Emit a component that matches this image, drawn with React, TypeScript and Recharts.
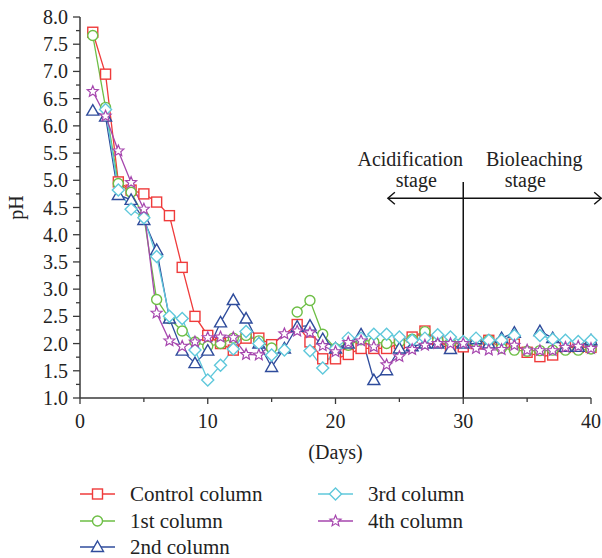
import React from 'react';
import { LineChart, Line, XAxis, YAxis, ReferenceLine } from 'recharts';

const days = [1, 2, 3, 4, 5, 6, 7, 8, 9, 10, 11, 12, 13, 14, 15, 16, 17, 18, 19, 20, 21, 22, 23, 24, 25, 26, 27, 28, 29, 30, 31, 32, 33, 34, 35, 36, 37, 38, 39, 40];

const control = [7.72, 6.95, 4.97, 4.82, 4.75, 4.6, 4.35, 3.4, 2.5, 2.15, 2.0, 1.88, 2.1, 2.1, 1.98, null, 2.35, 2.03, 1.72, 1.72, 1.8, 1.91, 1.91, 1.91, 2.0, 2.12, 2.23, 2.05, 1.93, 1.94, 2.0, 2.06, 2.0, 1.99, 1.84, 1.76, 1.79, 1.93, 1.93, 1.93];
const col1 = [7.66, 6.34, 4.94, 4.78, 4.33, 2.81, 2.46, 2.23, 2.03, 1.95, 2.0, 2.1, 2.15, 2.05, 1.92, null, 2.58, 2.79, 2.17, 1.91, 1.97, 2.07, 2.03, 2.0, 2.03, 2.08, 2.22, 2.06, 2.02, 2.03, 2.03, 2.06, 1.92, 1.88, 1.86, 1.87, 1.88, 1.88, 1.88, 1.9];
const col2 = [6.28, 6.17, 4.73, 4.64, 4.27, 3.72, 2.46, 1.87, 1.64, 1.87, 2.39, 2.8, 2.46, 2.0, 1.57, 1.91, 2.31, 2.33, 2.08, 1.91, 2.0, 2.17, 1.33, 1.51, 1.91, 1.95, 2.0, 2.0, 1.9, 2.0, 2.08, 2.0, 2.1, 2.2, null, 2.23, 2.1, 1.94, 1.94, 2.06];
const col3 = [null, 6.3, 4.82, 4.47, 4.31, 3.6, 2.5, 2.46, 1.88, 1.33, 1.6, 1.9, 2.22, 2.0, 1.79, 1.88, null, 1.87, 1.55, 1.91, 2.1, 2.1, 2.17, 2.17, 2.12, 2.06, 2.1, 2.16, 2.12, 2.04, 2.1, 2.06, 2.06, 2.15, null, 2.15, 2.08, 2.06, 2.04, 2.06];
const col4 = [6.63, 6.18, 5.54, 4.96, 4.47, 2.56, 2.05, 1.95, 2.03, 2.11, 2.12, 2.11, 1.8, 1.79, null, 2.18, 2.23, 2.2, 1.96, 1.85, 2.02, 2.05, 1.94, 1.61, 1.76, 1.89, 1.97, 2.0, 2.0, 2.0, 1.91, 1.88, 1.89, 1.97, 1.88, 1.87, 1.87, 1.93, 1.95, 1.91];

const xTicks = [0, 5, 10, 15, 20, 25, 30, 35, 40];
const yTicks = [1, 1.25, 1.5, 1.75, 2, 2.25, 2.5, 2.75, 3, 3.25, 3.5, 3.75, 4, 4.25, 4.5, 4.75, 5, 5.25, 5.5, 5.75, 6, 6.25, 6.5, 6.75, 7, 7.25, 7.5, 7.75, 8];

const data = days.map((d, i) => ({
  day: d,
  control: control[i],
  col1: col1[i],
  col2: col2[i],
  col3: col3[i],
  col4: col4[i],
}));

const FONT = "'Liberation Serif', 'Times New Roman', serif";
const AXIS = '#3a3a3a';

const series = [
  { key: 'control', name: 'Control column', color: '#ef3b3b', shape: 'square', connect: true },
  { key: 'col1', name: '1st column', color: '#6dbe45', shape: 'circle', connect: false },
  { key: 'col2', name: '2nd column', color: '#2f4c9c', shape: 'triangle', connect: false },
  { key: 'col3', name: '3rd column', color: '#5fc8db', shape: 'diamond', connect: false },
  { key: 'col4', name: '4th column', color: '#a646ae', shape: 'star', connect: true },
];

function Marker({ shape, cx, cy, color }: any) {
  const common = { fill: '#fff', stroke: color, strokeWidth: 1.4 };
  if (shape === 'square') return <rect x={cx - 5} y={cy - 5} width={10} height={10} {...common} />;
  if (shape === 'circle') return <circle cx={cx} cy={cy} r={5} {...common} />;
  if (shape === 'triangle')
    return <path d={`M${cx},${cy - 6}L${cx + 6},${cy + 4.5}L${cx - 6},${cy + 4.5}Z`} {...common} />;
  if (shape === 'diamond')
    return <path d={`M${cx},${cy - 6}L${cx + 6},${cy}L${cx},${cy + 6}L${cx - 6},${cy}Z`} {...common} />;
  // star
  let d = '';
  for (let k = 0; k < 10; k++) {
    const r = k % 2 === 0 ? 5.8 : 2.6;
    const a = -Math.PI / 2 + (k * Math.PI) / 5;
    d += `${k === 0 ? 'M' : 'L'}${cx + r * Math.cos(a)},${cy + r * Math.sin(a)}`;
  }
  return <path d={d + 'Z'} {...common} strokeWidth={1.2} />;
}

const dotFor = (shape: string, color: string) => (props: any) => {
  const { cx, cy, index, value } = props;
  if (value == null || cx == null || cy == null) return <g key={`e-${index}`} />;
  return (
    <g key={`d-${shape}-${index}`}>
      <Marker shape={shape} cx={cx} cy={cy} color={color} />
    </g>
  );
};

function XTick({ x, y, payload }: any) {
  const major = payload.value % 10 === 0;
  return (
    <g>
      <line x1={x} y1={y} x2={x} y2={y + (major ? 6 : 4)} stroke={AXIS} strokeWidth={1.3} />
      {major && (
        <text x={x} y={y + 30} textAnchor="middle" fontFamily={FONT} fontSize={20} fill="#222">
          {payload.value}
        </text>
      )}
    </g>
  );
}

function YTick({ x, y, payload }: any) {
  const major = Math.abs(payload.value * 2 - Math.round(payload.value * 2)) < 1e-6;
  return (
    <g>
      <line x1={x} y1={y} x2={x - (major ? 7 : 4)} y2={y} stroke={AXIS} strokeWidth={1.3} />
      {major && (
        <text x={x - 12} y={y + 7} textAnchor="end" fontFamily={FONT} fontSize={20} fill="#222">
          {payload.value.toFixed(1)}
        </text>
      )}
    </g>
  );
}

function Divider(p: any) {
  const x = p.x1;
  const top = Math.min(p.y1, p.y2);
  const bottom = Math.max(p.y1, p.y2);
  const t = { fontFamily: FONT, fontSize: 20, fill: '#222', textAnchor: 'middle' as const };
  return (
    <g>
      <line x1={x} y1={top} x2={x} y2={bottom} stroke="#111" strokeWidth={1.5} />
      <text x={x - 53} y={top - 16} {...t}>Acidification</text>
      <text x={x - 47} y={top + 5} {...t}>stage</text>
      <text x={x + 71} y={top - 16} {...t}>Bioleaching</text>
      <text x={x + 62} y={top + 5} {...t}>stage</text>
    </g>
  );
}

function Arrow(p: any) {
  const { x1, x2, y1 } = p;
  return (
    <g stroke="#111" strokeWidth={1.4} fill="none">
      <line x1={x1} y1={y1} x2={x2} y2={y1} />
      <path d={`M${x1 + 7},${y1 - 6}L${x1},${y1}L${x1 + 7},${y1 + 6}`} />
      <path d={`M${x2 - 7},${y1 - 6}L${x2},${y1}L${x2 - 7},${y1 + 6}`} />
    </g>
  );
}

function LegendItem({ s, left, top }: any) {
  return (
    <div style={{ position: 'absolute', left, top, display: 'flex', alignItems: 'center', height: 24 }}>
      <svg width={36} height={14} style={{ overflow: 'visible' }}>
        <line x1={0} y1={7} x2={35} y2={7} stroke={s.color} strokeWidth={1.4} />
        <Marker shape={s.shape} cx={17.5} cy={7} color={s.color} />
      </svg>
      <span style={{ marginLeft: 14, fontFamily: FONT, fontSize: 21, color: '#222', whiteSpace: 'nowrap' }}>{s.name}</span>
    </div>
  );
}

export default function App() {
  const legendPos = [
    { left: 80, top: 482 },
    { left: 80, top: 509 },
    { left: 80, top: 535 },
    { left: 318, top: 482 },
    { left: 318, top: 509 },
  ];
  return (
    <div style={{ position: 'absolute', left: 0, top: 0, width: 602, height: 558, background: '#fff', overflow: 'hidden' }}>
      <LineChart width={602} height={558} data={data} margin={{ top: 17, right: 11, left: 0, bottom: 93 }}>
        <XAxis
          dataKey="day"
          type="number"
          domain={[0, 40]}
          ticks={xTicks}
          interval={0}
          tickSize={0}
          tickMargin={0}
          tickLine={false}
          tick={<XTick />}
          height={67}
          stroke={AXIS}
          strokeWidth={1.5}
          label={{ value: '(Days)', position: 'insideBottom', offset: 6, style: { fontFamily: FONT, fontSize: 20, fill: '#222' } }}
        />
        <YAxis
          type="number"
          domain={[1, 8]}
          ticks={yTicks}
          interval={0}
          width={80}
          tickSize={0}
          tickMargin={0}
          tickLine={false}
          tick={<YTick />}
          stroke={AXIS}
          strokeWidth={1.5}
          label={{ value: 'pH', angle: -90, position: 'insideLeft', offset: 16, style: { fontFamily: FONT, fontSize: 20, fill: '#222', textAnchor: 'middle' } }}
        />
        {series.map((s) => (
          <Line
            key={s.key}
            type="linear"
            dataKey={s.key}
            name={s.name}
            stroke={s.color}
            strokeWidth={1.3}
            connectNulls={s.connect}
            dot={dotFor(s.shape, s.color)}
            activeDot={false}
            isAnimationActive={false}
          />
        ))}
        <ReferenceLine segment={[{ x: 30, y: 1 }, { x: 30, y: 4.97 }]} ifOverflow="visible" shape={Divider} />
        <ReferenceLine segment={[{ x: 24.1, y: 4.67 }, { x: 40.8, y: 4.67 }]} ifOverflow="visible" shape={Arrow} />
      </LineChart>
      {series.map((s, i) => (
        <LegendItem key={s.key} s={s} left={legendPos[i].left} top={legendPos[i].top} />
      ))}
    </div>
  );
}
